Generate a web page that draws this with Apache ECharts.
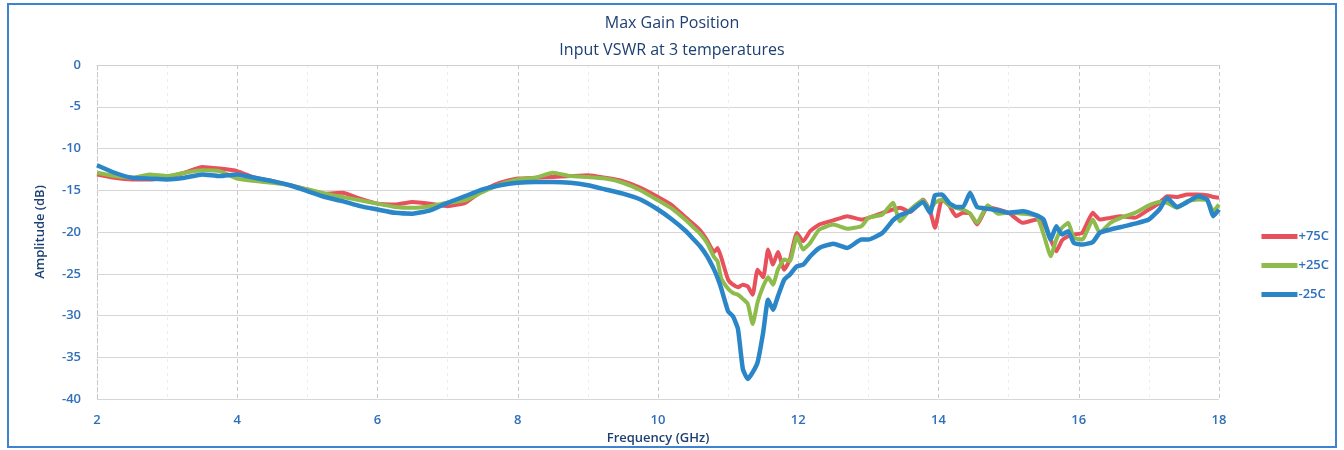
<!DOCTYPE html>
<html>
<head>
<meta charset="utf-8">
<script src="https://cdn.jsdelivr.net/npm/echarts@6/dist/echarts.min.js"></script>
<style>
html,body{margin:0;padding:0;background:#fff;}
#chart{width:1344px;height:450px;}
</style>
</head>
<body>
<div id="chart"></div>
<script>
// Frequency grid (GHz)
const freq = [2.0,2.25,2.5,2.75,3.0,3.25,3.5,3.75,4.0,4.25,4.5,4.75,5.0,5.25,5.5,5.75,6.0,6.25,6.5,6.75,7.0,7.25,7.5,7.75,8.0,8.25,8.5,8.75,9.0,9.25,9.5,9.75,10.0,10.2,10.4,10.5,10.6,10.7,10.8,10.85,10.9,11.0,11.07,11.14,11.21,11.28,11.35,11.42,11.5,11.57,11.64,11.71,11.8,11.88,11.98,12.07,12.17,12.3,12.5,12.7,12.9,13.0,13.2,13.35,13.45,13.6,13.78,13.88,13.95,14.05,14.15,14.25,14.35,14.45,14.55,14.7,14.85,15.0,15.2,15.4,15.5,15.6,15.68,15.76,15.85,15.93,16.05,16.2,16.3,16.45,16.6,16.8,17.0,17.15,17.26,17.4,17.55,17.7,17.83,17.92,18.0];

// +75C (dB)
const amp75 = [-13.1,-13.5,-13.7,-13.7,-13.4,-12.9,-12.2,-12.4,-12.7,-13.5,-13.9,-14.4,-14.9,-15.4,-15.3,-16.0,-16.6,-16.7,-16.4,-16.6,-16.9,-16.5,-15.0,-14.1,-13.6,-13.5,-13.4,-13.3,-13.2,-13.5,-13.9,-14.7,-15.8,-16.8,-18.3,-19.0,-19.8,-21.0,-22.4,-21.9,-23.0,-25.7,-26.3,-26.6,-26.3,-26.5,-27.5,-24.5,-25.4,-22.1,-23.9,-22.4,-24.5,-23.3,-20.1,-21.1,-19.9,-19.1,-18.6,-18.1,-18.5,-18.3,-17.7,-17.3,-17.1,-17.6,-16.1,-17.5,-19.5,-16.1,-16.8,-18.1,-17.7,-17.8,-19.1,-17.0,-17.3,-17.7,-18.9,-18.5,-19.0,-20.9,-22.3,-21.0,-20.5,-20.3,-20.1,-17.7,-18.5,-18.3,-18.1,-18.3,-17.3,-16.5,-15.7,-15.8,-15.5,-15.5,-15.6,-15.8,-15.9];

// +25C (dB)
const amp25 = [-12.9,-13.3,-13.5,-13.1,-13.3,-12.9,-12.6,-12.7,-13.6,-13.9,-14.1,-14.4,-14.9,-15.4,-15.8,-16.2,-16.6,-17.0,-17.1,-16.9,-16.5,-16.2,-15.2,-14.3,-13.7,-13.5,-12.9,-13.3,-13.4,-13.6,-14.1,-15.0,-16.2,-17.2,-18.6,-19.4,-20.2,-21.3,-23.0,-23.5,-25.5,-26.8,-27.3,-27.5,-28.0,-28.6,-31.0,-28.4,-26.5,-25.4,-26.3,-24.5,-23.3,-23.5,-20.5,-22.1,-21.3,-19.7,-19.1,-19.6,-19.3,-18.3,-17.9,-16.5,-18.7,-17.3,-16.2,-17.3,-16.5,-16.1,-16.8,-17.1,-17.3,-17.8,-18.9,-16.8,-17.8,-17.7,-17.8,-18.1,-20.3,-22.9,-20.9,-19.5,-18.9,-20.7,-20.9,-18.5,-20.1,-18.9,-18.3,-17.7,-16.8,-16.4,-16.5,-17.1,-16.3,-16.1,-16.2,-17.5,-16.7];

// -25C (dB)
const ampM25 = [-12.0,-12.9,-13.5,-13.6,-13.7,-13.5,-13.1,-13.3,-13.1,-13.5,-13.9,-14.4,-15.1,-15.8,-16.3,-16.9,-17.3,-17.7,-17.8,-17.4,-16.5,-15.7,-14.9,-14.4,-14.1,-14.0,-14.0,-14.1,-14.4,-14.9,-15.4,-16.1,-17.3,-18.5,-19.9,-20.8,-21.7,-22.9,-24.5,-25.5,-26.7,-29.5,-30.1,-31.6,-36.4,-37.6,-36.8,-35.6,-32.0,-28.1,-29.3,-27.7,-25.7,-25.1,-24.1,-23.9,-22.9,-21.9,-21.4,-21.9,-20.9,-20.9,-20.1,-18.6,-18.0,-17.5,-16.4,-17.7,-15.6,-15.5,-16.5,-17.0,-17.0,-15.3,-17.0,-17.2,-17.4,-17.7,-17.5,-18.0,-18.5,-20.9,-19.3,-20.3,-19.9,-21.3,-21.5,-21.2,-20.1,-19.7,-19.4,-19.0,-18.5,-17.3,-15.9,-17.0,-16.4,-15.7,-16.1,-18.1,-17.3];

const seriesNames = ['+75C', '+25C', '-25C'];
const xTicks = [2,4,6,8,10,12,14,16,18];
const yTicks = [0,-5,-10,-15,-20,-25,-30,-35,-40];

const zip = (xs, ys) => xs.map((x, i) => [x, ys[i]]);
const font = '"Open Sans", "Noto Sans", sans-serif';
const labelBlue = '#2f6fba';

const chart = echarts.init(document.getElementById('chart'), null, {renderer: 'canvas'});
chart.setOption({
  animation: false,
  backgroundColor: '#ffffff',
  title: [
    {text: 'Max Gain Position', left: 'center', top: 10,
     textStyle: {fontFamily: font, fontSize: 16, fontWeight: 500, color: '#1d3f73'}},
    {text: 'Input VSWR at 3 temperatures', left: 'center', top: 37,
     textStyle: {fontFamily: font, fontSize: 16, fontWeight: 500, color: '#1d3f73'}}
  ],
  legend: {
    orient: 'vertical', right: 10, top: 225, itemGap: 16,
    itemWidth: 36, itemHeight: 5, icon: 'rect',
    data: seriesNames,
    textStyle: {fontFamily: font, fontSize: 13, color: labelBlue, fontWeight: 600, padding: [0,0,0,-4]}
  },
  grid: {left: 97, right: 125, top: 65, bottom: 50},
  xAxis: {
    type: 'value', min: 2, max: 18, interval: 2,
    name: 'Frequency (GHz)', nameLocation: 'middle', nameGap: 32,
    nameTextStyle: {fontFamily: font, fontSize: 13, color: '#1d3f73', fontWeight: 600},
    axisLine: {show: true, lineStyle: {color: '#d0d0d0'}},
    axisTick: {show: false},
    axisLabel: {fontFamily: font, fontSize: 13, color: labelBlue, fontWeight: 600, margin: 15},
    splitLine: {show: true, lineStyle: {color: '#c8c8c8', type: [4, 3], width: 1}},
    minorTick: {show: false, splitNumber: 2},
    minorSplitLine: {show: true, lineStyle: {color: '#ececec', type: [3, 4], width: 1}}
  },
  yAxis: {
    type: 'value', min: -40, max: 0, interval: 5,
    name: 'Amplitude (dB)', nameLocation: 'middle', nameGap: 50,
    nameTextStyle: {fontFamily: font, fontSize: 13, color: '#1d3f73', fontWeight: 600},
    axisLine: {show: true, lineStyle: {color: '#c8c8c8', type: [4, 3]}},
    axisTick: {show: false},
    axisLabel: {fontFamily: font, fontSize: 13, color: labelBlue, fontWeight: 600, margin: 16},
    splitLine: {show: true, lineStyle: {color: '#d6d6d6', width: 1}}
  },
  series: [
    {name: seriesNames[0], type: 'line', data: zip(freq, amp75), showSymbol: false, smooth: 0.15,
     lineStyle: {color: '#e8515b', width: 4}, itemStyle: {color: '#e8515b'}, z: 2},
    {name: seriesNames[1], type: 'line', data: zip(freq, amp25), showSymbol: false, smooth: 0.15,
     lineStyle: {color: '#8dbb4c', width: 4}, itemStyle: {color: '#8dbb4c'}, z: 3},
    {name: seriesNames[2], type: 'line', data: zip(freq, ampM25), showSymbol: false, smooth: 0.15,
     lineStyle: {color: '#2b86c8', width: 4.5}, itemStyle: {color: '#2b86c8'}, z: 4}
  ],
  graphic: [
    {type: 'rect', shape: {x: 8, y: 4, width: 1328, height: 443}, silent: true,
     style: {fill: 'none', stroke: '#3f82cf', lineWidth: 2}}
  ]
});
</script>
</body>
</html>
